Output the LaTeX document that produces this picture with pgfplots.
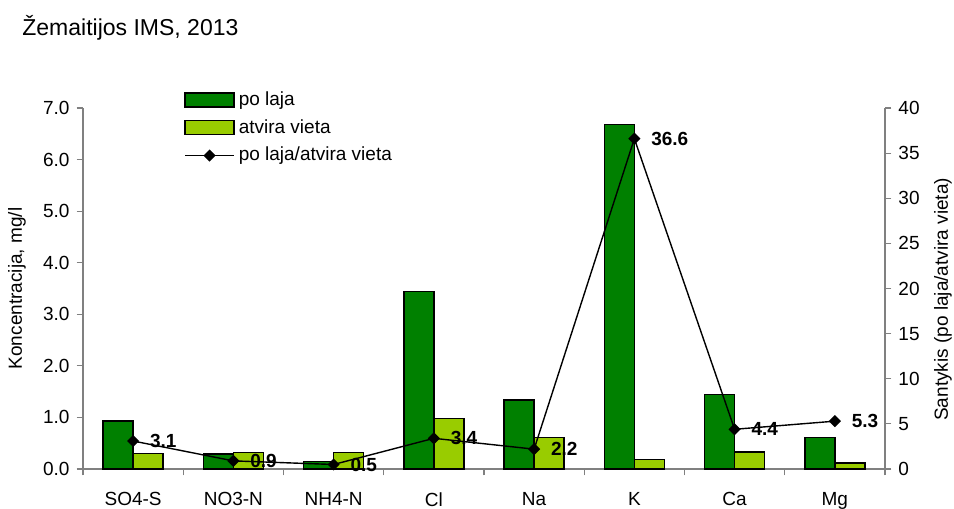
\documentclass[border=0pt]{standalone}
\usepackage{pgfplots}
\pgfplotsset{compat=1.18}
\usepackage{fontspec}
\setmainfont{Liberation Sans}
\definecolor{dgreen}{RGB}{0,128,0}
\definecolor{lgreen}{RGB}{153,204,0}
\definecolor{axgray}{RGB}{128,128,128}

\pgfplotsset{
  base/.style={
    at={(0,0)}, anchor=south west,
    scale only axis, width=401pt, height=180.5pt,
    xmin=-0.5, xmax=7.5,
    axis line style={axgray, line width=0.6pt},
    tick style={axgray, line width=0.6pt},
    tick align=outside,
    major tick length=3.2pt,
    ticklabel style={font=\fontsize{9.5}{11}\selectfont},
    label style={font=\fontsize{9.5}{11}\selectfont},
    /pgf/number format/assume math mode=true,
  },
  boxlegend/.style={legend image code/.code={\draw[##1] (0pt,-3.5pt) rectangle (24.5pt,3.5pt);}},
  linelegend/.style={legend image code/.code={\draw[##1, mark repeat=2, mark phase=2] plot coordinates {(0pt,0pt) (12.25pt,0pt) (24.5pt,0pt)};}},
  ratiomark/.style={mark=square*, mark size=1.8pt, mark options={rotate=45, fill=black}},
}

\begin{document}
\begin{tikzpicture}
\begin{axis}[base,
  ymin=0, ymax=7,
  axis x line*=bottom, axis y line*=left,
  xtick={-0.5,0.5,...,7.5}, xticklabels={},
  extra x ticks={0,...,7},
  extra x tick labels={SO4-S,NO3-N,NH4-N,Cl,Na,K,Ca,Mg},
  extra x tick style={major tick length=0pt, xticklabel style={yshift=-8.2pt}},
  ytick={0,...,7},
  yticklabel style={/pgf/number format/.cd, fixed, fixed zerofill, precision=1},
  ylabel={Koncentracija, mg/l},
  ylabel style={at={(axis description cs:-0.0823,0.5)}, anchor=center},
  legend style={at={(0.1259,1.052)}, anchor=north west, draw=none, fill=none,
    font=\fontsize{9.5}{11}\selectfont, row sep=3.5pt, inner sep=0pt,
    nodes={inner xsep=2pt, inner ysep=1pt}},
  legend cell align=left,
]
\addplot[ybar, bar width=15pt, bar shift=-7.5pt, fill=dgreen, draw=black, line width=0.7pt, forget plot]
  coordinates {(0,0.93) (1,0.29) (2,0.15) (3,3.44) (4,1.34) (5,6.68) (6,1.44) (7,0.61)};
\addplot[ybar, bar width=15pt, bar shift=7.5pt, fill=lgreen, draw=black, line width=0.7pt, forget plot]
  coordinates {(0,0.30) (1,0.32) (2,0.32) (3,0.98) (4,0.61) (5,0.18) (6,0.33) (7,0.115)};
\addlegendimage{boxlegend, fill=dgreen, draw=black, line width=0.7pt}
\addlegendentry{po laja}
\addlegendimage{boxlegend, fill=lgreen, draw=black, line width=0.7pt}
\addlegendentry{atvira vieta}
\addlegendimage{linelegend, black, line width=0.7pt, ratiomark}
\addlegendentry{po laja/atvira vieta}
\end{axis}

\begin{axis}[base,
  ymin=0, ymax=40,
  axis x line=none, axis y line*=right,
  ytick={0,5,...,40},
  ylabel={Santykis (po laja/atvira vieta)},
  ylabel style={at={(axis description cs:1.0723,0.47)}, anchor=center},
]
\addplot[black, line width=0.7pt, ratiomark,
  nodes near coords={\pgfmathprintnumber[fixed, fixed zerofill, precision=1]{\pgfplotspointmeta}},
  point meta=y,
  every node near coord/.append style={anchor=west, xshift=4.8pt, text=black,
    font=\fontsize{9.5}{11}\selectfont\bfseries}]
  coordinates {(0,3.1) (1,0.9) (2,0.5) (3,3.4) (4,2.2) (5,36.6) (6,4.4) (7,5.3)};
\end{axis}

\node[anchor=base west, font=\fontsize{11.5}{13}\selectfont, inner sep=0pt] at (-30.5pt,216.5pt) {Žemaitijos IMS, 2013};
\pgfresetboundingbox
\path[use as bounding box] (-41.5pt,-20pt) rectangle (435.5pt,234.5pt);
\end{tikzpicture}
\end{document}
